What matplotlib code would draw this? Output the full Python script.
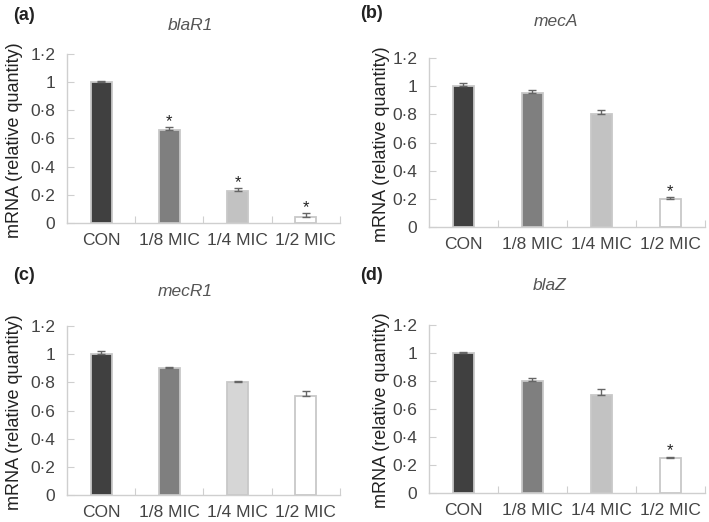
import matplotlib
matplotlib.use('Agg')
import matplotlib.pyplot as plt

cats = ['CON', '1/8 MIC', '1/4 MIC', '1/2 MIC']
panels = ['(a)', '(b)', '(c)', '(d)']
genes = ['blaR1', 'mecA', 'mecR1', 'blaZ']

blaR1 = [1.0, 0.66, 0.23, 0.04]
blaR1_err = [0.01, 0.02, 0.02, 0.03]
blaR1_sig = [False, True, True, True]

mecA = [1.0, 0.95, 0.80, 0.20]
mecA_err = [0.02, 0.02, 0.03, 0.01]
mecA_sig = [False, False, False, True]

mecR1 = [1.0, 0.90, 0.80, 0.70]
mecR1_err = [0.02, 0.01, 0.01, 0.04]
mecR1_sig = [False, False, False, False]

blaZ = [1.0, 0.80, 0.70, 0.25]
blaZ_err = [0.01, 0.02, 0.04, 0.01]
blaZ_sig = [False, False, False, True]

yticks = [0, 0.2, 0.4, 0.6, 0.8, 1.0, 1.2]
ytick_labels = ['0', '0·2', '0·4', '0·6', '0·8', '1', '1·2']

bar_colors = ['#404040', '#7f7f7f', '#c2c2c2', '#ffffff']
bar_colors_c = ['#404040', '#7f7f7f', '#d6d6d6', '#ffffff']
txt = '#444444'
axc = '#cfcfcf'

W, H = 709, 522
# axes boxes in figure fractions [left, bottom, width, height]
boxes = [[0.0945, 0.5728, 0.385, 0.3238],
         [0.605, 0.565, 0.389, 0.324],
         [0.0945, 0.0517, 0.385, 0.3238],
         [0.605, 0.0556, 0.389, 0.322]]
# pixel positions of panel letters and gene titles
letter_px = [(13, 15), (360, 13), (13, 275), (360, 275)]
title_px = [(190, 25), (556, 22), (185, 292), (550, 285)]
ylab_x = [-0.163, -0.143, -0.163, -0.143]

data = [(blaR1, blaR1_err, blaR1_sig), (mecA, mecA_err, mecA_sig),
        (mecR1, mecR1_err, mecR1_sig), (blaZ, blaZ_err, blaZ_sig)]

fig = plt.figure(figsize=(W / 100, H / 100), dpi=100)
plt.rcParams['font.family'] = ['Liberation Sans', 'DejaVu Sans']

for i in range(4):
    vals, errs, sig = data[i]
    ax = fig.add_axes(boxes[i])
    x = list(range(len(cats)))
    cols = bar_colors_c if i == 2 else bar_colors
    ax.bar(x, vals, width=0.31, color=cols, edgecolor='#c8c8c8', linewidth=1.3, zorder=2)
    ax.errorbar(x, vals, yerr=[[0] * 4, errs], fmt='none', ecolor='#666666',
                elinewidth=1.0, capsize=2.8, capthick=1.0, zorder=3)
    for j in range(4):
        if sig[j]:
            ax.text(x[j], vals[j] + errs[j] + 0.04, '*', ha='center', va='center',
                    fontsize=12, color='#222222')
    ax.set_xlim(-0.5, 3.5)
    ax.set_ylim(0, 1.2)
    ax.set_yticks(yticks)
    ax.set_yticklabels(ytick_labels)
    ax.set_xticks([0.5, 1.5, 2.5, 3.5])
    ax.set_xticklabels([])
    ax.set_xticks(x, minor=True)
    ax.set_xticklabels(cats, minor=True)
    ax.tick_params(axis='x', which='minor', length=0, pad=7, labelsize=12.5, labelcolor=txt)
    ax.tick_params(axis='x', which='major', direction='in', length=5, color=axc)
    ax.tick_params(axis='y', direction='in', length=5, color=axc, labelsize=12.5,
                   labelcolor=txt, pad=8.5)
    for s in ['top', 'right']:
        ax.spines[s].set_visible(False)
    for s in ['left', 'bottom']:
        ax.spines[s].set_color(axc)
        ax.spines[s].set_linewidth(1.0)
    ax.set_ylabel('mRNA (relative quantity)', fontsize=13, color='#222222')
    ax.yaxis.set_label_coords(ylab_x[i], 0.49)

    tx, ty = title_px[i]
    fig.text(tx / W, 1 - ty / H, genes[i], fontsize=12.5, style='italic', color='#555555',
             ha='center', va='center')
    lx, ly = letter_px[i]
    fig.text(lx / W, 1 - ly / H, panels[i], fontsize=13, fontweight='bold',
             color='#222222', ha='left', va='center')

fig.savefig('out.png', dpi=100)
